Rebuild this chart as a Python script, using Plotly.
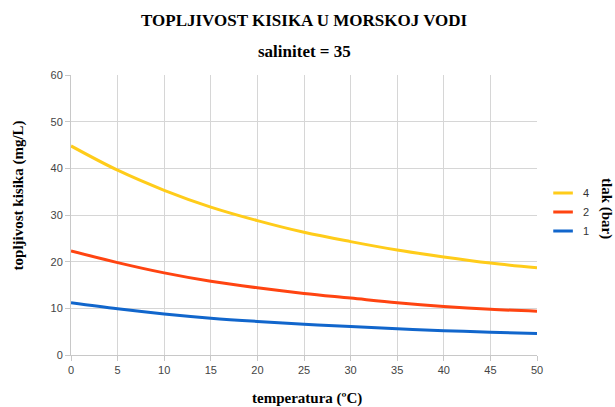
import plotly.graph_objects as go

# Temperature (°C) and oxygen solubility (mg/L) at salinity 35 for three pressures
temperature = [0, 5, 10, 15, 20, 25, 30, 35, 40, 45, 50]
p4_bar = [44.8, 39.6, 35.3, 31.7, 28.8, 26.3, 24.3, 22.5, 21.0, 19.7, 18.7]
p2_bar = [22.3, 19.8, 17.6, 15.8, 14.4, 13.2, 12.2, 11.2, 10.4, 9.8, 9.4]
p1_bar = [11.2, 9.9, 8.8, 7.9, 7.2, 6.6, 6.1, 5.6, 5.2, 4.9, 4.6]
series_names = ["4", "2", "1"]
series_colors = ["#ffcc1a", "#ff4411", "#1166cc"]

serif = "Liberation Serif, Times New Roman, serif"
sans = "Liberation Sans, Arial, sans-serif"

fig = go.Figure()
for name, vals, col in zip(series_names, [p4_bar, p2_bar, p1_bar], series_colors):
    # curve itself
    fig.add_trace(go.Scatter(
        x=temperature, y=vals, name=name, mode="lines", showlegend=False,
        line=dict(color=col, width=3, shape="spline"),
    ))
    # short dash used as the legend key
    fig.add_trace(go.Scatter(
        x=[None], y=[None], name=name, mode="markers",
        marker=dict(symbol="line-ew", size=14, line=dict(color=col, width=3)),
    ))

axis_common = dict(
    showgrid=True, gridcolor="#d6d6d6", gridwidth=1,
    showline=True, linecolor="#c8c8c8", linewidth=1,
    ticks="outside", ticklen=5, tickcolor="#c8c8c8",
    tickfont=dict(family=sans, size=11, color="#444444"),
    zeroline=False, automargin=False,
)

fig.update_layout(
    width=615, height=407,
    margin=dict(l=71, r=78, t=75, b=52),
    paper_bgcolor="white", plot_bgcolor="white",
    showlegend=True,
    legend=dict(
        x=1.013, y=0.63, xanchor="left", yanchor="top",
        font=dict(family=sans, size=11, color="#333333"),
        itemwidth=30, tracegroupgap=0,
    ),
    xaxis=dict(range=[0, 50], dtick=5, **axis_common),
    yaxis=dict(range=[0, 60], dtick=10, **axis_common),
    annotations=[
        dict(text="<b>TOPLJIVOST KISIKA U MORSKOJ VODI</b>", xref="paper", yref="paper",
             x=0.5, y=1.0, yshift=66, xanchor="center", showarrow=False,
             font=dict(family=serif, size=17, color="black")),
        dict(text="<b>salinitet = 35</b>", xref="paper", yref="paper",
             x=0.5, y=1.0, yshift=35, xanchor="center", showarrow=False,
             font=dict(family=serif, size=17, color="black")),
        dict(text="<b>topljivost kisika (mg/L)</b>", xref="paper", yref="paper",
             x=0.0, xshift=-53, y=0.57, xanchor="center", yanchor="middle",
             textangle=-90, showarrow=False,
             font=dict(family=serif, size=15, color="black")),
        dict(text="<b>temperatura (ºC)</b>", xref="paper", yref="paper",
             x=0.5, xshift=3, y=0.0, yshift=-43, xanchor="center", yanchor="middle",
             showarrow=False,
             font=dict(family=serif, size=15, color="black")),
        dict(text="<b>tlak (bar)</b>", xref="paper", yref="paper",
             x=1.0, xshift=70, y=0.525, xanchor="center", yanchor="middle",
             textangle=90, showarrow=False,
             font=dict(family=serif, size=15, color="black")),
    ],
)

fig.write_html("out.html")
